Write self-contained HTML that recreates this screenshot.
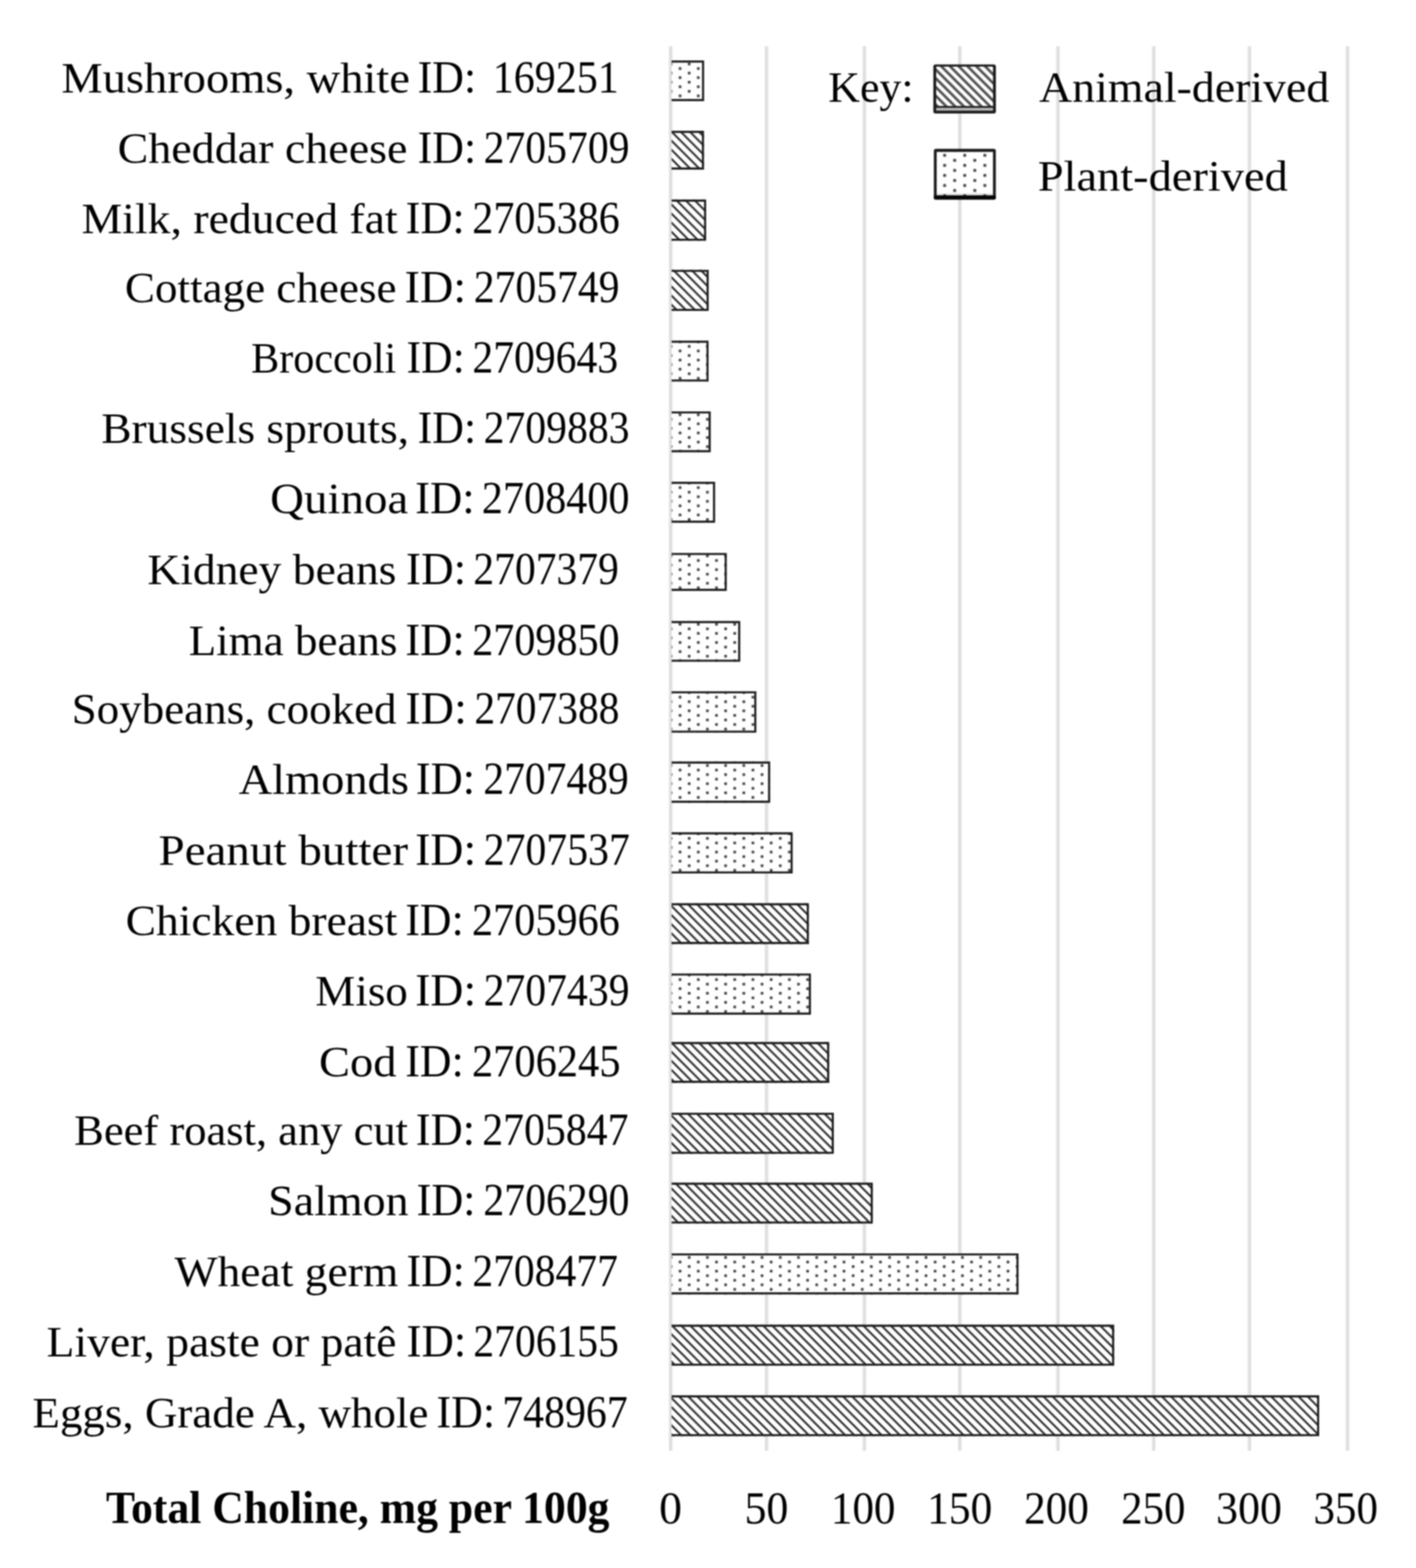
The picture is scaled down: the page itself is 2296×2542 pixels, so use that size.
<!DOCTYPE html><html><head><meta charset="utf-8"><style>html,body{margin:0;padding:0;background:#fff;}svg{display:block;}#wrap{filter:blur(1px);}text{white-space:pre;font-family:"Liberation Serif",serif;fill:#000;}</style></head><body>
<div id="wrap">
<svg id="chart" width="2296" height="2542" viewBox="0 0 2296 2542">
<defs>
<pattern id="hatch" patternUnits="userSpaceOnUse" x="4.0" y="0" width="14.77" height="14.77"><rect width="14.77" height="14.77" fill="#fff"/><path d="M-3,-3 L17.77,17.77 M11.77,-3 L17.77,3 M-3,11.77 L3,17.77" stroke="#262626" stroke-width="3.0" fill="none"/></pattern>
<pattern id="hatch2" patternUnits="userSpaceOnUse" x="13.0" y="0" width="14.2" height="14.2"><rect width="14.2" height="14.2" fill="#fff"/><path d="M-3,-3 L17.2,17.2 M11.2,-3 L17.2,3 M-3,11.2 L3,17.2" stroke="#505050" stroke-width="4.2" fill="none"/></pattern>
<pattern id="dots" patternUnits="userSpaceOnUse" x="1095.32" y="107.41" width="29.54" height="14.77"><rect width="29.54" height="14.77" fill="#fff"/><rect x="5.29" y="1.59" width="4.2" height="4.2" fill="#3a3a3a"/><rect x="20.05" y="8.98" width="4.2" height="4.2" fill="#3a3a3a"/></pattern>
<pattern id="dots2" patternUnits="userSpaceOnUse" x="1523.55" y="247.73" width="32.6" height="16.3"><rect width="32.6" height="16.3" fill="#fff"/><rect x="5.85" y="1.78" width="4.6" height="4.6" fill="#444"/><rect x="22.15" y="9.93" width="4.6" height="4.6" fill="#444"/></pattern>
</defs>
<rect width="2296" height="2542" fill="#fff"/>
<line x1="1087.50" y1="75" x2="1087.50" y2="2352" stroke="#eeeeee" stroke-width="7"/>
<line x1="1087.50" y1="75" x2="1087.50" y2="2352" stroke="#dcdcdc" stroke-width="3.4"/>
<line x1="1242.90" y1="75" x2="1242.90" y2="2352" stroke="#eeeeee" stroke-width="7"/>
<line x1="1242.90" y1="75" x2="1242.90" y2="2352" stroke="#dcdcdc" stroke-width="3.4"/>
<line x1="1401.60" y1="75" x2="1401.60" y2="2352" stroke="#eeeeee" stroke-width="7"/>
<line x1="1401.60" y1="75" x2="1401.60" y2="2352" stroke="#dcdcdc" stroke-width="3.4"/>
<line x1="1556.30" y1="75" x2="1556.30" y2="2352" stroke="#eeeeee" stroke-width="7"/>
<line x1="1556.30" y1="75" x2="1556.30" y2="2352" stroke="#dcdcdc" stroke-width="3.4"/>
<line x1="1715.50" y1="75" x2="1715.50" y2="2352" stroke="#eeeeee" stroke-width="7"/>
<line x1="1715.50" y1="75" x2="1715.50" y2="2352" stroke="#dcdcdc" stroke-width="3.4"/>
<line x1="1870.70" y1="75" x2="1870.70" y2="2352" stroke="#eeeeee" stroke-width="7"/>
<line x1="1870.70" y1="75" x2="1870.70" y2="2352" stroke="#dcdcdc" stroke-width="3.4"/>
<line x1="2025.90" y1="75" x2="2025.90" y2="2352" stroke="#eeeeee" stroke-width="7"/>
<line x1="2025.90" y1="75" x2="2025.90" y2="2352" stroke="#dcdcdc" stroke-width="3.4"/>
<line x1="2185.00" y1="75" x2="2185.00" y2="2352" stroke="#eeeeee" stroke-width="7"/>
<line x1="2185.00" y1="75" x2="2185.00" y2="2352" stroke="#dcdcdc" stroke-width="3.4"/>
<rect x="1089.0" y="98.00" width="52.70" height="66.00" fill="url(#dots)"/>
<path d="M1089.0,99.70 H1140.00 V162.30 H1089.0" stroke="#1c1c1c" stroke-width="3.4" fill="none"/>
<rect x="1089.0" y="212.00" width="52.50" height="63.00" fill="url(#hatch)"/>
<path d="M1089.0,213.70 H1139.80 V273.30 H1089.0" stroke="#1c1c1c" stroke-width="3.4" fill="none"/>
<rect x="1089.0" y="323.60" width="56.00" height="66.70" fill="url(#hatch)"/>
<path d="M1089.0,325.30 H1143.30 V388.60 H1089.0" stroke="#1c1c1c" stroke-width="3.4" fill="none"/>
<rect x="1089.0" y="437.40" width="60.10" height="66.70" fill="url(#hatch)"/>
<path d="M1089.0,439.10 H1147.40 V502.40 H1089.0" stroke="#1c1c1c" stroke-width="3.4" fill="none"/>
<rect x="1089.0" y="552.30" width="59.90" height="66.30" fill="url(#dots)"/>
<path d="M1089.0,554.00 H1147.20 V616.90 H1089.0" stroke="#1c1c1c" stroke-width="3.4" fill="none"/>
<rect x="1089.0" y="666.90" width="63.40" height="66.30" fill="url(#dots)"/>
<path d="M1089.0,668.60 H1150.70 V731.50 H1089.0" stroke="#1c1c1c" stroke-width="3.4" fill="none"/>
<rect x="1089.0" y="781.10" width="70.50" height="66.30" fill="url(#dots)"/>
<path d="M1089.0,782.80 H1157.80 V845.70 H1089.0" stroke="#1c1c1c" stroke-width="3.4" fill="none"/>
<rect x="1089.0" y="896.40" width="89.40" height="61.50" fill="url(#dots)"/>
<path d="M1089.0,898.10 H1176.70 V956.20 H1089.0" stroke="#1c1c1c" stroke-width="3.4" fill="none"/>
<rect x="1089.0" y="1006.80" width="111.30" height="66.00" fill="url(#dots)"/>
<path d="M1089.0,1008.50 H1198.60 V1071.10 H1089.0" stroke="#1c1c1c" stroke-width="3.4" fill="none"/>
<rect x="1089.0" y="1120.70" width="137.40" height="67.10" fill="url(#dots)"/>
<path d="M1089.0,1122.40 H1224.70 V1186.10 H1089.0" stroke="#1c1c1c" stroke-width="3.4" fill="none"/>
<rect x="1089.0" y="1234.50" width="159.80" height="67.00" fill="url(#dots)"/>
<path d="M1089.0,1236.20 H1247.10 V1299.80 H1089.0" stroke="#1c1c1c" stroke-width="3.4" fill="none"/>
<rect x="1089.0" y="1349.30" width="196.30" height="66.80" fill="url(#dots)"/>
<path d="M1089.0,1351.00 H1283.60 V1414.40 H1089.0" stroke="#1c1c1c" stroke-width="3.4" fill="none"/>
<rect x="1089.0" y="1464.30" width="222.50" height="66.20" fill="url(#hatch)"/>
<path d="M1089.0,1466.00 H1309.80 V1528.80 H1089.0" stroke="#1c1c1c" stroke-width="3.4" fill="none"/>
<rect x="1089.0" y="1578.20" width="225.90" height="66.70" fill="url(#dots)"/>
<path d="M1089.0,1579.90 H1313.20 V1643.20 H1089.0" stroke="#1c1c1c" stroke-width="3.4" fill="none"/>
<rect x="1089.0" y="1689.30" width="255.50" height="66.20" fill="url(#hatch)"/>
<path d="M1089.0,1691.00 H1342.80 V1753.80 H1089.0" stroke="#1c1c1c" stroke-width="3.4" fill="none"/>
<rect x="1089.0" y="1803.90" width="263.00" height="66.70" fill="url(#hatch)"/>
<path d="M1089.0,1805.60 H1350.30 V1868.90 H1089.0" stroke="#1c1c1c" stroke-width="3.4" fill="none"/>
<rect x="1089.0" y="1917.30" width="326.20" height="66.30" fill="url(#hatch)"/>
<path d="M1089.0,1919.00 H1413.50 V1981.90 H1089.0" stroke="#1c1c1c" stroke-width="3.4" fill="none"/>
<rect x="1089.0" y="2031.90" width="562.50" height="66.60" fill="url(#dots)"/>
<path d="M1089.0,2033.60 H1649.80 V2096.80 H1089.0" stroke="#1c1c1c" stroke-width="3.4" fill="none"/>
<rect x="1089.0" y="2147.60" width="717.60" height="66.50" fill="url(#hatch)"/>
<path d="M1089.0,2149.30 H1804.90 V2212.40 H1089.0" stroke="#1c1c1c" stroke-width="3.4" fill="none"/>
<rect x="1089.0" y="2262.00" width="1050.00" height="66.30" fill="url(#hatch)"/>
<path d="M1089.0,2263.70 H2137.30 V2326.60 H1089.0" stroke="#1c1c1c" stroke-width="3.4" fill="none"/>
<rect x="1513.4" y="104.4" width="101.4" height="79.5" rx="3.5" fill="#1c1c1c"/>
<rect x="1518" y="108" width="92.2" height="63.8" fill="url(#hatch2)"/>
<rect x="1518" y="174.8" width="92.2" height="4.6" fill="#b8b8b8"/>
<rect x="1514.2" y="241.3" width="100.5" height="82.3" rx="3.5" fill="#1c1c1c"/>
<rect x="1518.8" y="246.3" width="91.3" height="70.4" fill="url(#dots2)"/>
<rect x="1518.8" y="313.7" width="91.3" height="1.4" fill="#d0d0d0"/>
<rect x="1514.2" y="316.7" width="100.5" height="6.9" rx="2.5" fill="#050505"/>
<text x="99.58" y="149.90" font-size="70.0" textLength="565.05" lengthAdjust="spacingAndGlyphs">Mushrooms, white</text>
<text x="677.14" y="149.90" font-size="73.0" textLength="94.94" lengthAdjust="spacingAndGlyphs">ID:</text>
<text x="798.90" y="149.90" font-size="73.0" textLength="204.49" lengthAdjust="spacingAndGlyphs">169251</text>
<text x="190.77" y="264.10" font-size="70.0" textLength="469.87" lengthAdjust="spacingAndGlyphs">Cheddar cheese</text>
<text x="677.14" y="264.10" font-size="73.0" textLength="94.94" lengthAdjust="spacingAndGlyphs">ID:</text>
<text x="784.32" y="264.10" font-size="73.0" textLength="236.35" lengthAdjust="spacingAndGlyphs">2705709</text>
<text x="132.19" y="378.20" font-size="70.0" textLength="512.62" lengthAdjust="spacingAndGlyphs">Milk, reduced fat</text>
<text x="657.72" y="378.20" font-size="73.0" textLength="95.87" lengthAdjust="spacingAndGlyphs">ID:</text>
<text x="765.74" y="378.20" font-size="73.0" textLength="239.30" lengthAdjust="spacingAndGlyphs">2705386</text>
<text x="202.56" y="489.50" font-size="70.0" textLength="440.28" lengthAdjust="spacingAndGlyphs">Cottage cheese</text>
<text x="656.01" y="489.50" font-size="73.0" textLength="99.90" lengthAdjust="spacingAndGlyphs">ID:</text>
<text x="768.13" y="489.50" font-size="73.0" textLength="236.34" lengthAdjust="spacingAndGlyphs">2705749</text>
<text x="407.18" y="604.40" font-size="70.0" textLength="235.23" lengthAdjust="spacingAndGlyphs">Broccoli</text>
<text x="659.34" y="604.40" font-size="73.0" textLength="94.19" lengthAdjust="spacingAndGlyphs">ID:</text>
<text x="765.93" y="604.40" font-size="73.0" textLength="236.34" lengthAdjust="spacingAndGlyphs">2709643</text>
<text x="164.18" y="718.00" font-size="70.0" textLength="499.08" lengthAdjust="spacingAndGlyphs">Brussels sprouts,</text>
<text x="677.14" y="718.00" font-size="73.0" textLength="94.94" lengthAdjust="spacingAndGlyphs">ID:</text>
<text x="784.33" y="718.00" font-size="73.0" textLength="236.34" lengthAdjust="spacingAndGlyphs">2709883</text>
<text x="438.14" y="832.40" font-size="70.0" textLength="223.88" lengthAdjust="spacingAndGlyphs">Quinoa</text>
<text x="673.17" y="832.40" font-size="73.0" textLength="96.50" lengthAdjust="spacingAndGlyphs">ID:</text>
<text x="781.33" y="832.40" font-size="73.0" textLength="239.32" lengthAdjust="spacingAndGlyphs">2708400</text>
<text x="238.98" y="946.60" font-size="70.0" textLength="403.85" lengthAdjust="spacingAndGlyphs">Kidney beans</text>
<text x="658.32" y="946.60" font-size="73.0" textLength="97.60" lengthAdjust="spacingAndGlyphs">ID:</text>
<text x="767.54" y="946.60" font-size="73.0" textLength="235.91" lengthAdjust="spacingAndGlyphs">2707379</text>
<text x="305.97" y="1062.00" font-size="70.0" textLength="338.48" lengthAdjust="spacingAndGlyphs">Lima beans</text>
<text x="657.16" y="1062.00" font-size="73.0" textLength="96.40" lengthAdjust="spacingAndGlyphs">ID:</text>
<text x="765.74" y="1062.00" font-size="73.0" textLength="238.91" lengthAdjust="spacingAndGlyphs">2709850</text>
<text x="116.15" y="1172.90" font-size="70.0" textLength="526.86" lengthAdjust="spacingAndGlyphs">Soybeans, cooked</text>
<text x="657.18" y="1172.90" font-size="73.0" textLength="99.77" lengthAdjust="spacingAndGlyphs">ID:</text>
<text x="769.14" y="1172.90" font-size="73.0" textLength="235.32" lengthAdjust="spacingAndGlyphs">2707388</text>
<text x="386.99" y="1286.70" font-size="70.0" textLength="276.05" lengthAdjust="spacingAndGlyphs">Almonds</text>
<text x="674.33" y="1286.70" font-size="73.0" textLength="95.94" lengthAdjust="spacingAndGlyphs">ID:</text>
<text x="783.74" y="1286.70" font-size="73.0" textLength="235.71" lengthAdjust="spacingAndGlyphs">2707489</text>
<text x="256.98" y="1401.50" font-size="70.0" textLength="404.62" lengthAdjust="spacingAndGlyphs">Peanut butter</text>
<text x="673.17" y="1401.50" font-size="73.0" textLength="98.92" lengthAdjust="spacingAndGlyphs">ID:</text>
<text x="784.34" y="1401.50" font-size="73.0" textLength="236.91" lengthAdjust="spacingAndGlyphs">2707537</text>
<text x="203.78" y="1515.80" font-size="70.0" textLength="440.43" lengthAdjust="spacingAndGlyphs">Chicken breast</text>
<text x="657.18" y="1515.80" font-size="73.0" textLength="94.73" lengthAdjust="spacingAndGlyphs">ID:</text>
<text x="765.15" y="1515.80" font-size="73.0" textLength="239.89" lengthAdjust="spacingAndGlyphs">2705966</text>
<text x="511.34" y="1630.00" font-size="70.0" textLength="149.95" lengthAdjust="spacingAndGlyphs">Miso</text>
<text x="673.17" y="1630.00" font-size="73.0" textLength="98.92" lengthAdjust="spacingAndGlyphs">ID:</text>
<text x="784.32" y="1630.00" font-size="73.0" textLength="236.35" lengthAdjust="spacingAndGlyphs">2707439</text>
<text x="517.28" y="1745.20" font-size="70.0" textLength="125.75" lengthAdjust="spacingAndGlyphs">Cod</text>
<text x="657.18" y="1745.20" font-size="73.0" textLength="94.73" lengthAdjust="spacingAndGlyphs">ID:</text>
<text x="765.14" y="1745.20" font-size="73.0" textLength="240.94" lengthAdjust="spacingAndGlyphs">2706245</text>
<text x="120.39" y="1856.20" font-size="70.0" textLength="541.21" lengthAdjust="spacingAndGlyphs">Beef roast, any cut</text>
<text x="674.33" y="1856.20" font-size="73.0" textLength="95.94" lengthAdjust="spacingAndGlyphs">ID:</text>
<text x="781.93" y="1856.20" font-size="73.0" textLength="237.11" lengthAdjust="spacingAndGlyphs">2705847</text>
<text x="434.85" y="1969.80" font-size="70.0" textLength="227.79" lengthAdjust="spacingAndGlyphs">Salmon</text>
<text x="675.55" y="1969.80" font-size="73.0" textLength="95.39" lengthAdjust="spacingAndGlyphs">ID:</text>
<text x="783.73" y="1969.80" font-size="73.0" textLength="236.94" lengthAdjust="spacingAndGlyphs">2706290</text>
<text x="283.00" y="2084.70" font-size="70.0" textLength="362.81" lengthAdjust="spacingAndGlyphs">Wheat germ</text>
<text x="659.34" y="2084.70" font-size="73.0" textLength="94.19" lengthAdjust="spacingAndGlyphs">ID:</text>
<text x="765.94" y="2084.70" font-size="73.0" textLength="235.91" lengthAdjust="spacingAndGlyphs">2708477</text>
<text x="75.58" y="2198.90" font-size="70.0" textLength="567.24" lengthAdjust="spacingAndGlyphs">Liver, paste or patê</text>
<text x="659.32" y="2198.90" font-size="73.0" textLength="96.61" lengthAdjust="spacingAndGlyphs">ID:</text>
<text x="767.54" y="2198.90" font-size="73.0" textLength="235.91" lengthAdjust="spacingAndGlyphs">2706155</text>
<text x="52.58" y="2313.80" font-size="70.0" textLength="642.04" lengthAdjust="spacingAndGlyphs">Eggs, Grade A, whole</text>
<text x="707.75" y="2313.80" font-size="73.0" textLength="94.95" lengthAdjust="spacingAndGlyphs">ID:</text>
<text x="814.44" y="2313.80" font-size="73.0" textLength="203.41" lengthAdjust="spacingAndGlyphs">748967</text>
<text x="171.69" y="2469.40" font-size="73.0" font-weight="bold" textLength="816.52" lengthAdjust="spacingAndGlyphs">Total Choline, mg per 100g</text>
<text x="1342.98" y="165.00" font-size="70.0" textLength="138.39" lengthAdjust="spacingAndGlyphs">Key:</text>
<text x="1684.89" y="165.30" font-size="70.0" textLength="470.51" lengthAdjust="spacingAndGlyphs">Animal-derived</text>
<text x="1682.68" y="309.30" font-size="70.0" textLength="405.42" lengthAdjust="spacingAndGlyphs">Plant-derived</text>
<text x="1068.88" y="2469.50" font-size="73.0" textLength="37.09" lengthAdjust="spacingAndGlyphs">0</text>
<text x="1207.25" y="2469.50" font-size="73.0" textLength="71.05" lengthAdjust="spacingAndGlyphs">50</text>
<text x="1347.37" y="2469.50" font-size="73.0" textLength="104.64" lengthAdjust="spacingAndGlyphs">100</text>
<text x="1503.37" y="2469.50" font-size="73.0" textLength="105.62" lengthAdjust="spacingAndGlyphs">150</text>
<text x="1660.47" y="2469.50" font-size="73.0" textLength="105.19" lengthAdjust="spacingAndGlyphs">200</text>
<text x="1818.09" y="2469.50" font-size="73.0" textLength="103.98" lengthAdjust="spacingAndGlyphs">250</text>
<text x="1971.78" y="2469.50" font-size="73.0" textLength="106.85" lengthAdjust="spacingAndGlyphs">300</text>
<text x="2129.75" y="2469.50" font-size="73.0" textLength="104.58" lengthAdjust="spacingAndGlyphs">350</text>
</svg></div></body></html>
